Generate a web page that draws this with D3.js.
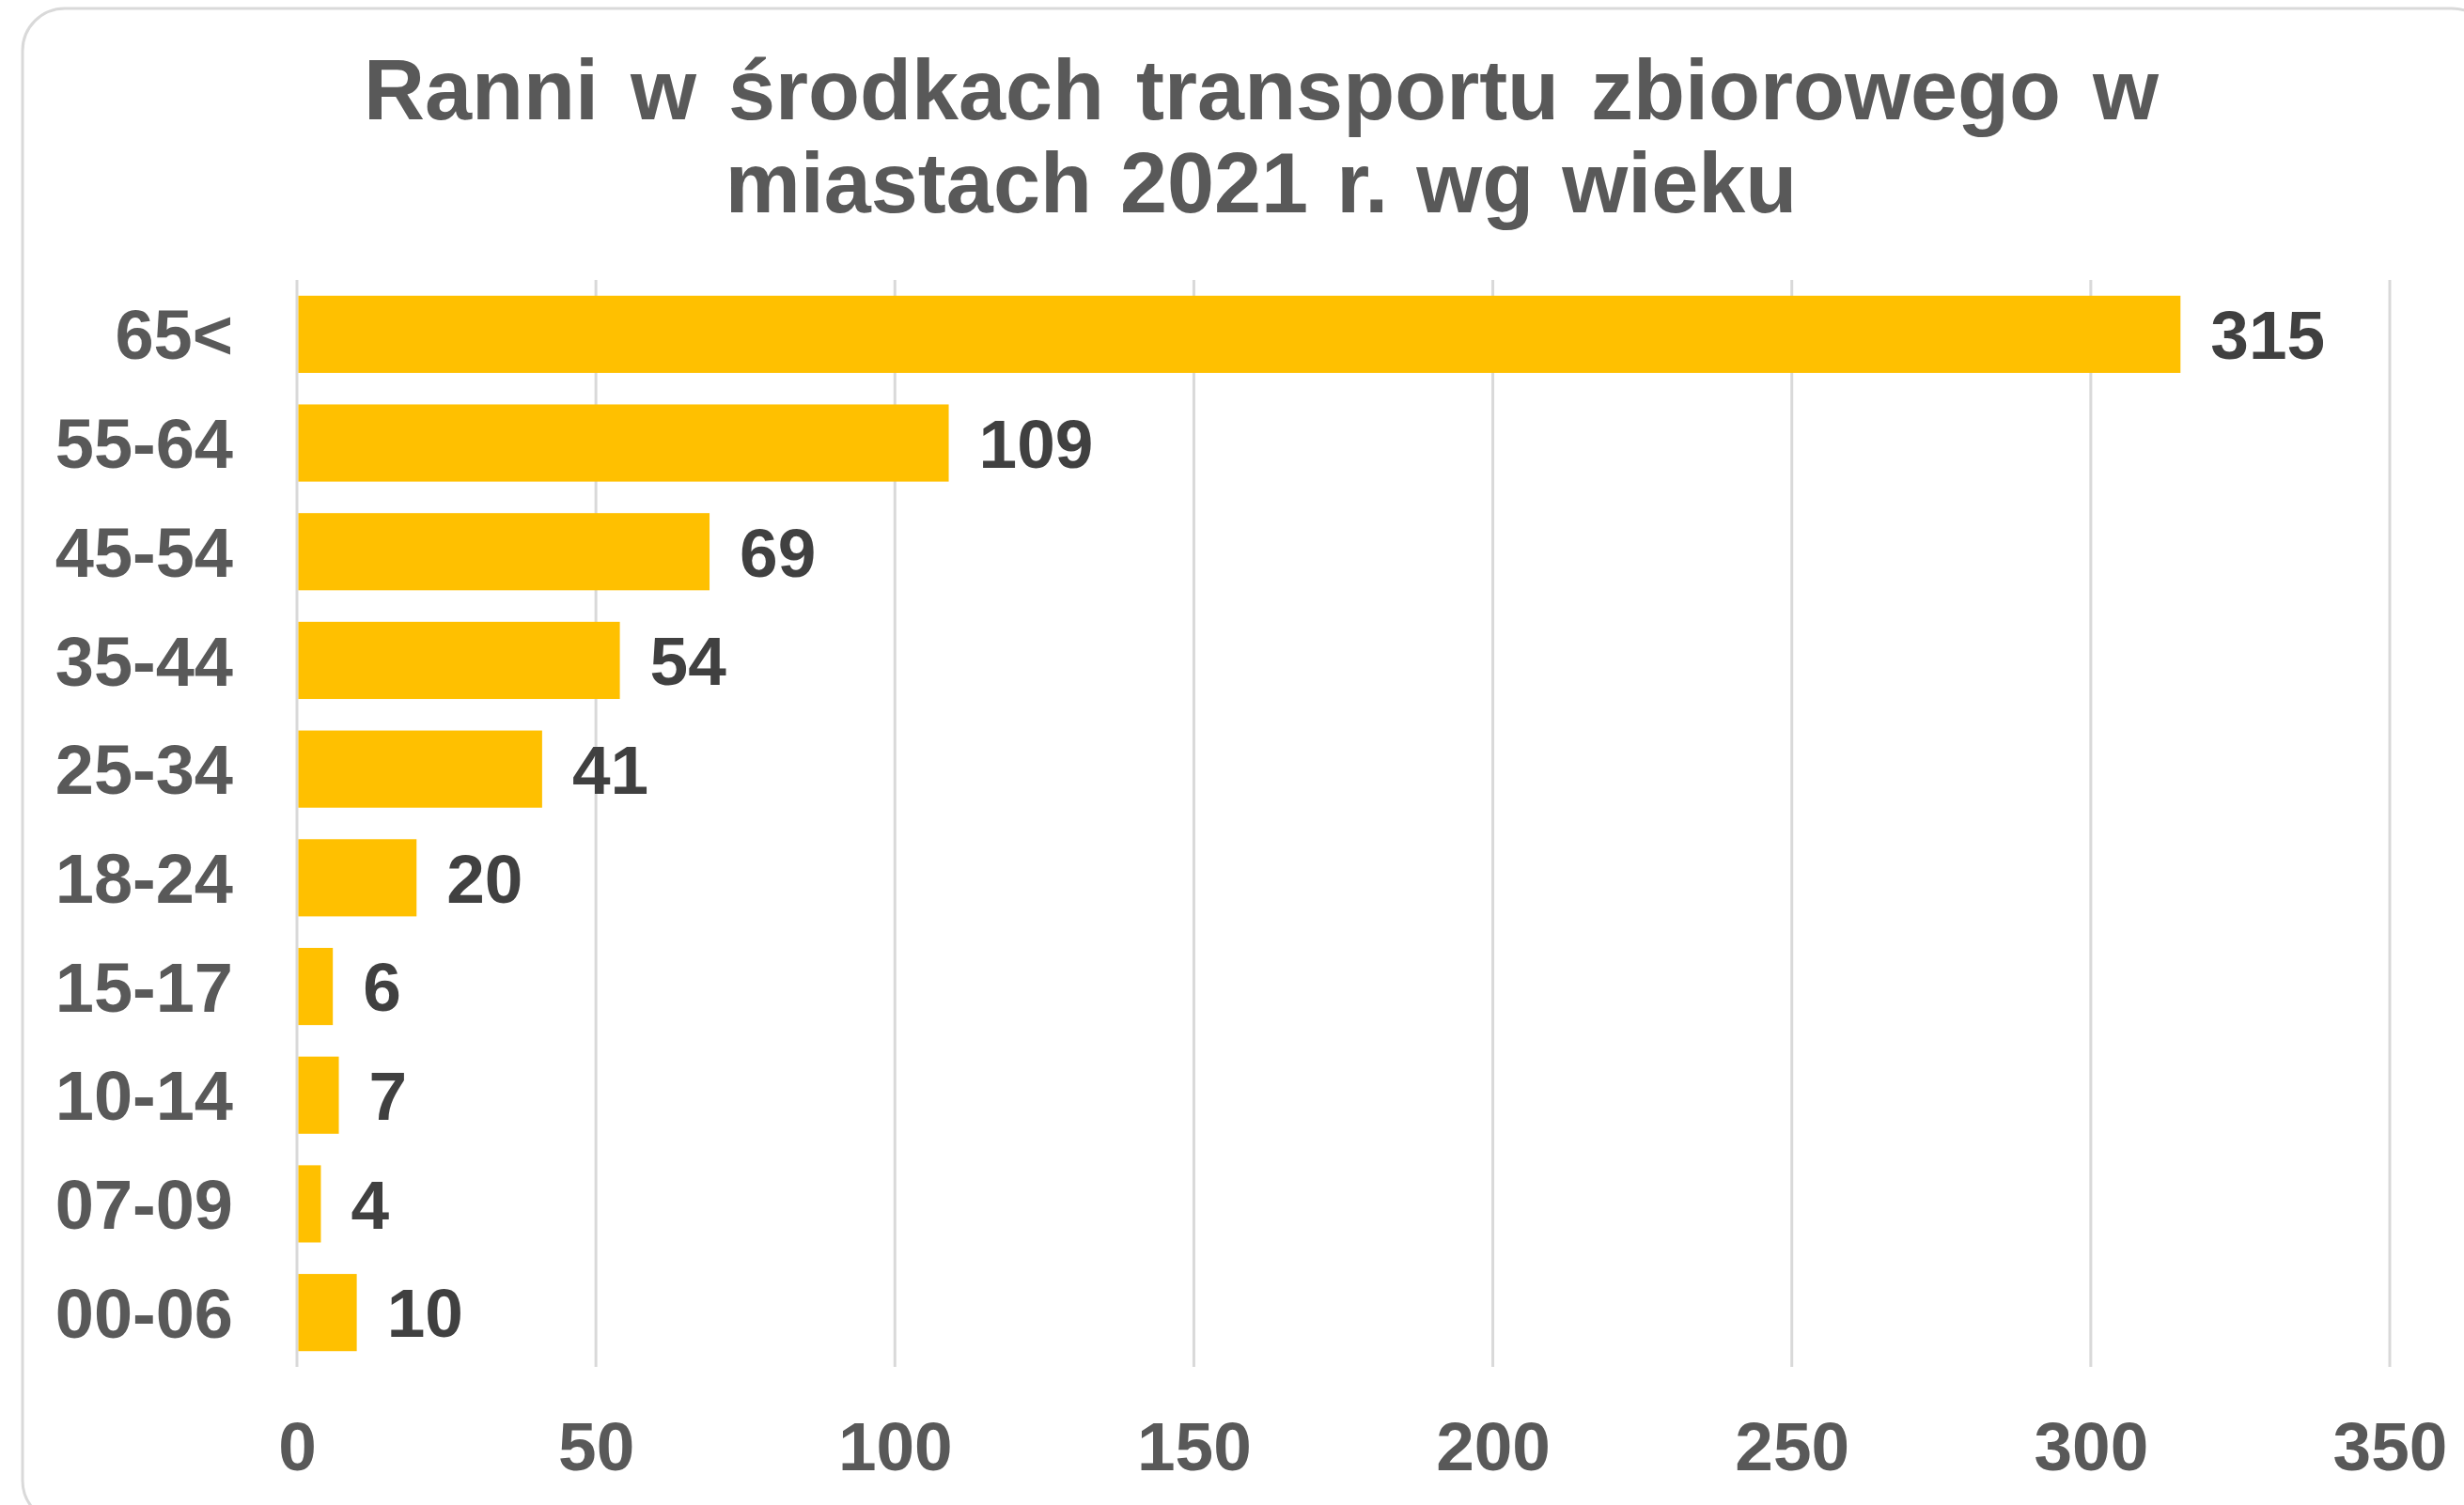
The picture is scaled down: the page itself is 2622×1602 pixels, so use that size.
<!DOCTYPE html>
<html>
<head>
<meta charset="utf-8">
<script src="https://cdn.jsdelivr.net/npm/d3@7"></script>
<style>
  html, body { margin: 0; padding: 0; background: #ffffff; }
  svg { display: block; }
  text { font-family: "Liberation Sans", Arial, sans-serif; font-weight: bold; }
</style>
</head>
<body>
<script>
const titleLines = ["Ranni w środkach transportu zbiorowego w", "miastach 2021 r. wg wieku"];
const titleWordSpacing = [9, 5];
const categories = ["65<", "55-64", "45-54", "35-44", "25-34", "18-24", "15-17", "10-14", "07-09", "00-06"];
const values = [315, 109, 69, 54, 41, 20, 6, 7, 4, 10];
const xTicks = [0, 50, 100, 150, 200, 250, 300, 350];

const W = 2622, H = 1602;
const svg = d3.select("body").append("svg").attr("width", W).attr("height", H);

// chart frame
svg.append("rect")
  .attr("x", 24).attr("y", 9)
  .attr("width", 2630).attr("height", 1612)
  .attr("rx", 45).attr("ry", 45)
  .attr("fill", "#ffffff")
  .attr("stroke", "#d9d9d9").attr("stroke-width", 3);

// title
const title = svg.append("text")
  .attr("x", 1342).attr("y", 127)
  .attr("text-anchor", "middle")
  .attr("font-size", 90)
  .attr("fill", "#595959");
titleLines.forEach((t, i) => {
  title.append("tspan").attr("x", 1342).attr("dy", i === 0 ? 0 : 99)
    .style("word-spacing", titleWordSpacing[i] + "px")
    .text(t);
});

const x = d3.scaleLinear().domain([0, 350]).range([316, 2543]);
const y = d3.scaleBand().domain(categories).range([298, 1455])
  .paddingInner(0.29).paddingOuter(0.145);

// gridlines
svg.append("g").selectAll("line").data(xTicks).join("line")
  .attr("x1", d => x(d)).attr("x2", d => x(d))
  .attr("y1", 298).attr("y2", 1455)
  .attr("stroke", "#d9d9d9").attr("stroke-width", 3);

// bars
svg.append("g").selectAll("rect").data(values).join("rect")
  .attr("x", x(0) + 1.5)
  .attr("y", (d, i) => y(categories[i]))
  .attr("width", d => x(d) - x(0) - 1.5)
  .attr("height", y.bandwidth())
  .attr("fill", "#FFC000");

// value labels
svg.append("g").selectAll("text").data(values).join("text")
  .attr("x", d => x(d) + 32)
  .attr("y", (d, i) => y(categories[i]) + y.bandwidth() / 2)
  .attr("dy", "0.36em")
  .attr("font-size", 73)
  .attr("fill", "#404040")
  .text(d => d);

// category axis
const yAxis = d3.axisLeft(y).tickSize(0).tickPadding(0);
const gy = svg.append("g").attr("transform", "translate(248,0)").call(yAxis);
gy.select(".domain").remove();
gy.selectAll("text")
  .attr("font-size", 74)
  .attr("fill", "#595959")
  .attr("font-family", "'Liberation Sans', Arial, sans-serif")
  .attr("font-weight", "bold")
  .attr("dy", "0.36em");

// value axis
const xAxis = d3.axisBottom(x).tickValues(xTicks).tickSize(0).tickPadding(0);
const gx = svg.append("g").attr("transform", "translate(0,1565)").call(xAxis);
gx.select(".domain").remove();
gx.selectAll("text")
  .attr("font-size", 73)
  .attr("fill", "#595959")
  .attr("font-family", "'Liberation Sans', Arial, sans-serif")
  .attr("font-weight", "bold")
  .attr("dy", 0)
  .attr("y", 0);
</script>
</body>
</html>
